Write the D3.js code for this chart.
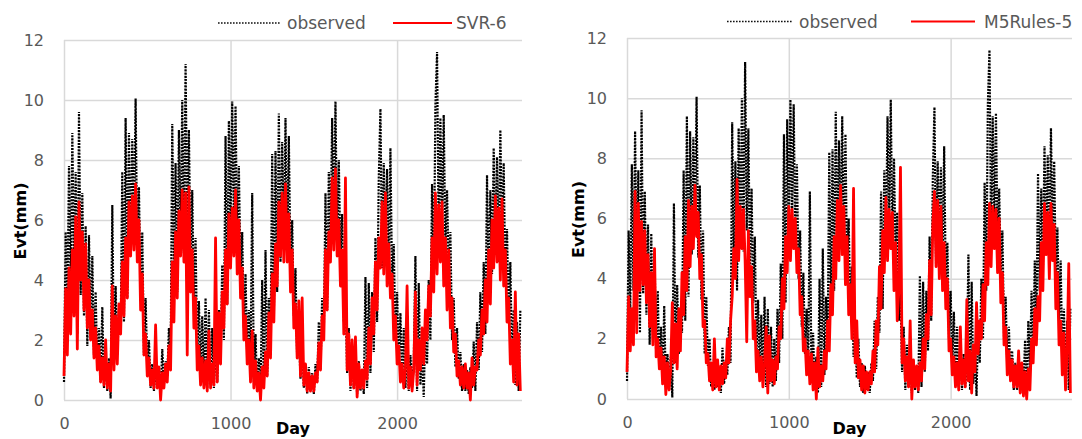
<!DOCTYPE html>
<html>
<head>
<meta charset="utf-8">
<script src="https://cdn.jsdelivr.net/npm/d3@7"></script>
<style>
  body { margin: 0; background: #fff; }
  text { font-family: "DejaVu Sans", sans-serif; }
</style>
</head>
<body>
<svg id="chart" width="1082" height="439"></svg>
<script>

// one reading every 10 days (upper / lower edge of the daily scatter)
var step = 10;

var observed = [
  0.6,5.6,3.0,7.8,3.6,8.9,4.2,7.6,2.2,9.6,
  3.5,6.9,2.8,5.8,1.8,5.5,2.0,4.8,1.5,3.6,
  1.0,2.4,0.6,3.1,0.4,1.5,0.3,1.4,0.05,6.5,
  1.2,3.8,1.5,3.0,2.2,7.6,2.6,9.4,3.4,8.9,
  4.8,8.7,5.5,10.05,4.7,7.1,3.3,5.6,1.5,3.4,
  1.1,2.0,0.4,1.2,0.3,1.1,0.4,1.0,0.2,1.7,
  0.5,1.3,0.8,2.4,1.2,9.2,4.4,7.9,3.6,9.0,
  5.0,10.0,4.9,11.2,5.6,9.0,4.3,7.0,3.2,5.4,
  1.4,3.3,0.9,2.8,0.6,3.4,0.4,3.0,0.5,2.4,
  0.4,2.0,0.6,3.0,1.2,4.5,2.0,8.8,3.2,9.3,
  5.6,9.95,6.0,9.8,5.2,7.8,4.0,5.6,2.4,4.2,
  1.5,3.0,1.1,6.9,0.6,2.2,0.3,1.4,0.2,4.0,
  0.4,5.0,0.8,3.4,1.8,8.2,2.8,8.3,3.6,9.55,
  4.6,8.6,5.2,9.4,4.8,8.8,4.2,6.0,2.8,4.4,
  1.4,2.3,0.7,2.0,0.4,1.2,0.2,1.1,0.3,0.9,
  0.2,1.2,0.6,2.6,1.0,3.4,2.2,6.9,3.0,7.6,
  5.0,9.4,5.8,9.95,5.0,8.0,4.6,6.2,2.6,3.6,
  0.9,2.4,0.3,1.8,0.4,1.4,0.2,1.3,0.3,1.0,
  0.2,4.1,0.4,3.9,0.9,3.6,1.6,5.4,2.6,7.4,
  9.7,4.4,7.9,5.2,7.7,4.0,8.4,3.8,5.2,2.0,
  3.6,1.2,2.9,0.7,2.4,0.4,1.8,0.3,1.5,0.4,
  1.2,4.8,0.3,3.9,0.5,1.6,0.1,2.6,1.2,4.0,
  2.0,7.2,3.6,9.8,11.6,5.2,9.4,5.6,9.5,5.0,
  7.0,4.2,5.6,2.0,3.4,1.1,2.4,0.7,1.6,0.3,
  1.2,0.3,1.0,0.2,1.1,0.4,1.95,0.3,2.6,1.0,
  3.6,1.6,4.6,2.2,7.5,3.6,7.0,4.2,8.4,5.0,
  8.1,4.6,9.0,5.2,7.9,4.0,5.7,2.6,4.6,1.2,
  3.0,0.5,2.6,0.3,3.0
];

var svr6 = [
  0.8,3.7,1.5,4.4,2.2,5.0,2.8,6.1,1.7,6.6,
  4.0,5.6,3.0,5.2,2.4,4.0,2.0,3.0,1.4,2.4,
  1.0,1.8,0.6,1.4,0.5,2.0,0.4,1.2,0.3,3.8,
  1.0,2.8,1.2,3.2,2.2,4.6,2.8,5.4,3.4,6.6,
  4.8,6.8,5.0,7.2,4.6,6.0,3.0,4.2,1.5,2.2,
  0.8,1.4,0.5,1.0,0.4,2.5,0.4,1.1,0.0,0.9,
  0.4,1.2,0.6,1.8,1.0,4.6,2.6,5.6,3.4,6.3,
  4.8,7.0,4.6,6.9,1.5,7.1,3.6,5.0,2.4,3.4,
  1.0,1.8,0.5,1.4,0.4,1.3,0.3,2.3,0.4,1.2,
  0.5,5.4,0.6,2.9,1.2,3.6,2.4,5.0,3.2,6.2,
  4.4,6.4,4.8,7.0,4.2,6.0,3.4,4.4,2.0,2.8,
  1.2,2.0,0.6,2.3,0.4,1.3,0.3,0.9,0.0,1.1,
  0.4,1.6,0.8,2.9,1.4,4.2,2.6,5.2,3.8,6.6,
  4.8,6.9,4.6,7.2,4.6,6.2,3.6,5.0,2.4,3.2,
  1.4,3.3,0.8,3.4,0.5,1.2,0.3,0.9,0.3,0.8,
  0.3,0.9,0.6,1.9,1.0,2.8,2.0,5.0,3.0,5.6,
  4.6,7.4,5.0,7.7,4.8,6.0,3.8,5.0,2.2,7.4,
  1.0,2.2,0.5,2.0,0.4,2.1,0.1,1.2,0.4,1.0,
  0.4,1.3,0.7,2.4,1.2,3.4,2.2,4.6,3.0,5.4,
  4.4,6.6,4.2,6.9,3.8,5.2,3.4,4.2,2.0,2.8,
  1.2,1.8,0.6,1.2,0.4,1.0,3.8,0.4,1.1,0.3,
  1.0,3.6,0.5,2.0,1.0,2.4,1.2,3.0,2.0,3.8,
  2.8,5.4,3.6,6.9,4.2,6.5,4.6,6.6,3.8,5.4,
  3.0,5.0,2.4,3.4,1.6,2.2,0.8,1.3,0.5,1.1,
  0.4,1.2,0.4,0.9,0.0,1.4,0.5,1.1,1.0,2.0,
  1.5,3.0,2.2,4.0,2.6,5.0,3.2,6.0,4.4,6.8,
  4.6,6.4,4.0,6.7,3.8,5.0,2.6,3.4,1.2,2.0,
  0.6,3.6,0.5,2.2,0.3
];

var m5rules5 = [
  0.9,3.4,1.6,3.0,1.8,6.9,2.2,6.5,3.6,5.9,
  3.8,5.6,3.2,4.8,2.4,4.2,1.8,5.0,1.4,2.0,
  1.0,1.7,0.5,1.4,0.15,1.2,0.3,1.0,3.2,1.2,
  2.5,1.0,3.0,1.6,4.2,2.8,5.4,3.6,6.6,4.4,
  6.4,5.0,7.1,5.4,6.2,4.0,4.8,2.4,2.6,1.2,
  1.5,0.6,1.2,0.3,2.0,0.4,1.3,0.3,1.1,0.5,
  1.2,0.7,2.0,1.2,2.6,3.4,5.0,4.0,7.3,4.6,
  6.4,5.0,6.3,4.6,1.9,5.6,3.4,4.4,2.0,2.6,
  0.9,1.6,0.6,1.4,0.4,1.2,2.4,0.2,2.1,0.6,
  1.3,0.5,1.4,1.0,2.4,2.0,4.0,3.0,5.4,4.2,
  6.4,4.6,6.3,5.0,6.0,4.2,5.0,2.8,3.4,1.6,
  2.0,0.8,1.6,0.5,1.5,0.3,1.2,0.0,1.7,0.4,
  1.1,0.6,1.6,1.0,2.6,1.6,3.8,2.8,5.4,4.0,
  6.6,4.6,7.1,4.8,6.4,3.8,5.4,2.8,3.8,2.0,
  7.0,1.2,2.6,0.7,1.3,0.3,1.1,0.2,0.9,0.3,
  0.9,0.5,1.6,0.9,2.6,1.8,4.4,3.0,5.6,4.2,
  6.7,4.6,6.3,5.0,6.2,3.6,5.2,2.6,3.6,7.7,
  1.2,2.0,0.6,1.4,0.4,2.6,0.0,1.3,0.4,1.1,
  0.3,1.2,0.6,2.0,1.0,2.8,2.0,4.6,2.8,5.8,
  6.9,4.4,6.6,4.0,6.4,3.6,5.2,3.0,4.0,1.6,
  2.0,0.8,1.4,0.4,1.2,0.3,2.4,0.5,1.3,0.4,
  3.3,0.6,1.6,0.2,1.8,0.9,3.2,1.5,2.6,2.0,
  3.8,2.6,5.2,3.8,6.5,4.4,6.4,5.0,6.3,4.2,
  6.0,3.2,4.2,1.8,2.4,0.8,1.6,0.6,1.3,0.4,
  1.1,0.4,1.6,0.2,1.2,0.1,0.9,0.0,1.0,0.3,
  2.0,1.2,3.0,1.8,3.4,2.6,5.2,3.6,6.5,4.8,
  6.2,4.0,6.5,4.6,5.8,3.0,4.2,1.8,2.6,0.8,
  2.2,0.3,1.6,4.5,0.2
];

var xTicks = [0, 1000, 2000];
var yTicks = [0, 2, 4, 6, 8, 10, 12];
var xMax = 2750, yMax = 12;

var panels = [
  { model: svr6, name: "SVR-6", left: 64, right: 522, top: 40, bottom: 400,
    yLabelX: 26, legendY: 23, obsLine: [218, 280], obsText: 287, modLine: [393, 452], modText: 456 },
  { model: m5rules5, name: "M5Rules-5", left: 627, right: 1072, top: 38, bottom: 399,
    yLabelX: 584, legendY: 21.5, obsLine: [727, 792], obsText: 799, modLine: [911, 975], modText: 984 }
];

var svg = d3.select("#chart");

panels.forEach(function(p) {
  var g = svg.append("g");

  var x = d3.scaleLinear().domain([0, xMax]).range([p.left, p.right]);
  var y = d3.scaleLinear().domain([0, yMax]).range([p.bottom, p.top]);

  // horizontal grid + y labels
  var ya = g.append("g")
      .attr("transform", "translate(" + p.left + ",0)")
      .call(d3.axisLeft(y).tickValues(yTicks).tickSize(-(p.right - p.left)).tickPadding(20));

  // vertical grid + x labels
  var xa = g.append("g")
      .attr("transform", "translate(0," + p.bottom + ")")
      .call(d3.axisBottom(x).tickValues(xTicks).tickFormat(d3.format("d"))
        .tickSize(-(p.bottom - p.top)).tickPadding(18));

  [ya, xa].forEach(function(a) {
    a.select(".domain").remove();
    a.selectAll(".tick line").attr("stroke", "#d9d9d9").attr("stroke-width", 1.5);
    a.selectAll(".tick text")
        .attr("fill", "#595959")
        .style("font-family", "'DejaVu Sans', sans-serif")
        .style("font-size", "16px");
  });

  var line = d3.line()
      .x(function(d, i) { return x(i * step); })
      .y(function(d) { return y(d); });

  g.append("path")
      .datum(observed)
      .attr("d", line)
      .attr("fill", "none")
      .attr("stroke", "#000")
      .attr("stroke-width", 2.2)
      .attr("stroke-dasharray", "2,1.2");

  g.append("path")
      .datum(p.model)
      .attr("d", line)
      .attr("fill", "none")
      .attr("stroke", "#ff0000")
      .attr("stroke-width", 2.8)
      .attr("stroke-linejoin", "round");

  // axis titles
  g.append("text")
      .attr("x", (p.left + p.right) / 2)
      .attr("y", 434)
      .attr("text-anchor", "middle")
      .style("font-weight", "bold")
      .style("font-size", "16px")
      .attr("fill", "#000")
      .text("Day");

  g.append("text")
      .attr("transform", "translate(" + p.yLabelX + "," + ((p.top + p.bottom) / 2 + 1) + ") rotate(-90)")
      .attr("text-anchor", "middle")
      .style("font-weight", "bold")
      .style("font-size", "16px")
      .attr("fill", "#000")
      .text("Evt(mm)");

  // legend
  g.append("line")
      .attr("x1", p.obsLine[0]).attr("x2", p.obsLine[1])
      .attr("y1", p.legendY).attr("y2", p.legendY)
      .attr("stroke", "#111").attr("stroke-width", 1.6).attr("stroke-dasharray", "1.6,1.4");
  g.append("text")
      .attr("x", p.obsText).attr("y", p.legendY + 6)
      .attr("fill", "#595959").style("font-size", "17px")
      .text("observed");
  g.append("line")
      .attr("x1", p.modLine[0]).attr("x2", p.modLine[1])
      .attr("y1", p.legendY).attr("y2", p.legendY)
      .attr("stroke", "#ff0000").attr("stroke-width", 2.2);
  g.append("text")
      .attr("x", p.modText).attr("y", p.legendY + 6)
      .attr("fill", "#595959").style("font-size", "17px")
      .text(p.name);
});

</script>
</body>
</html>
